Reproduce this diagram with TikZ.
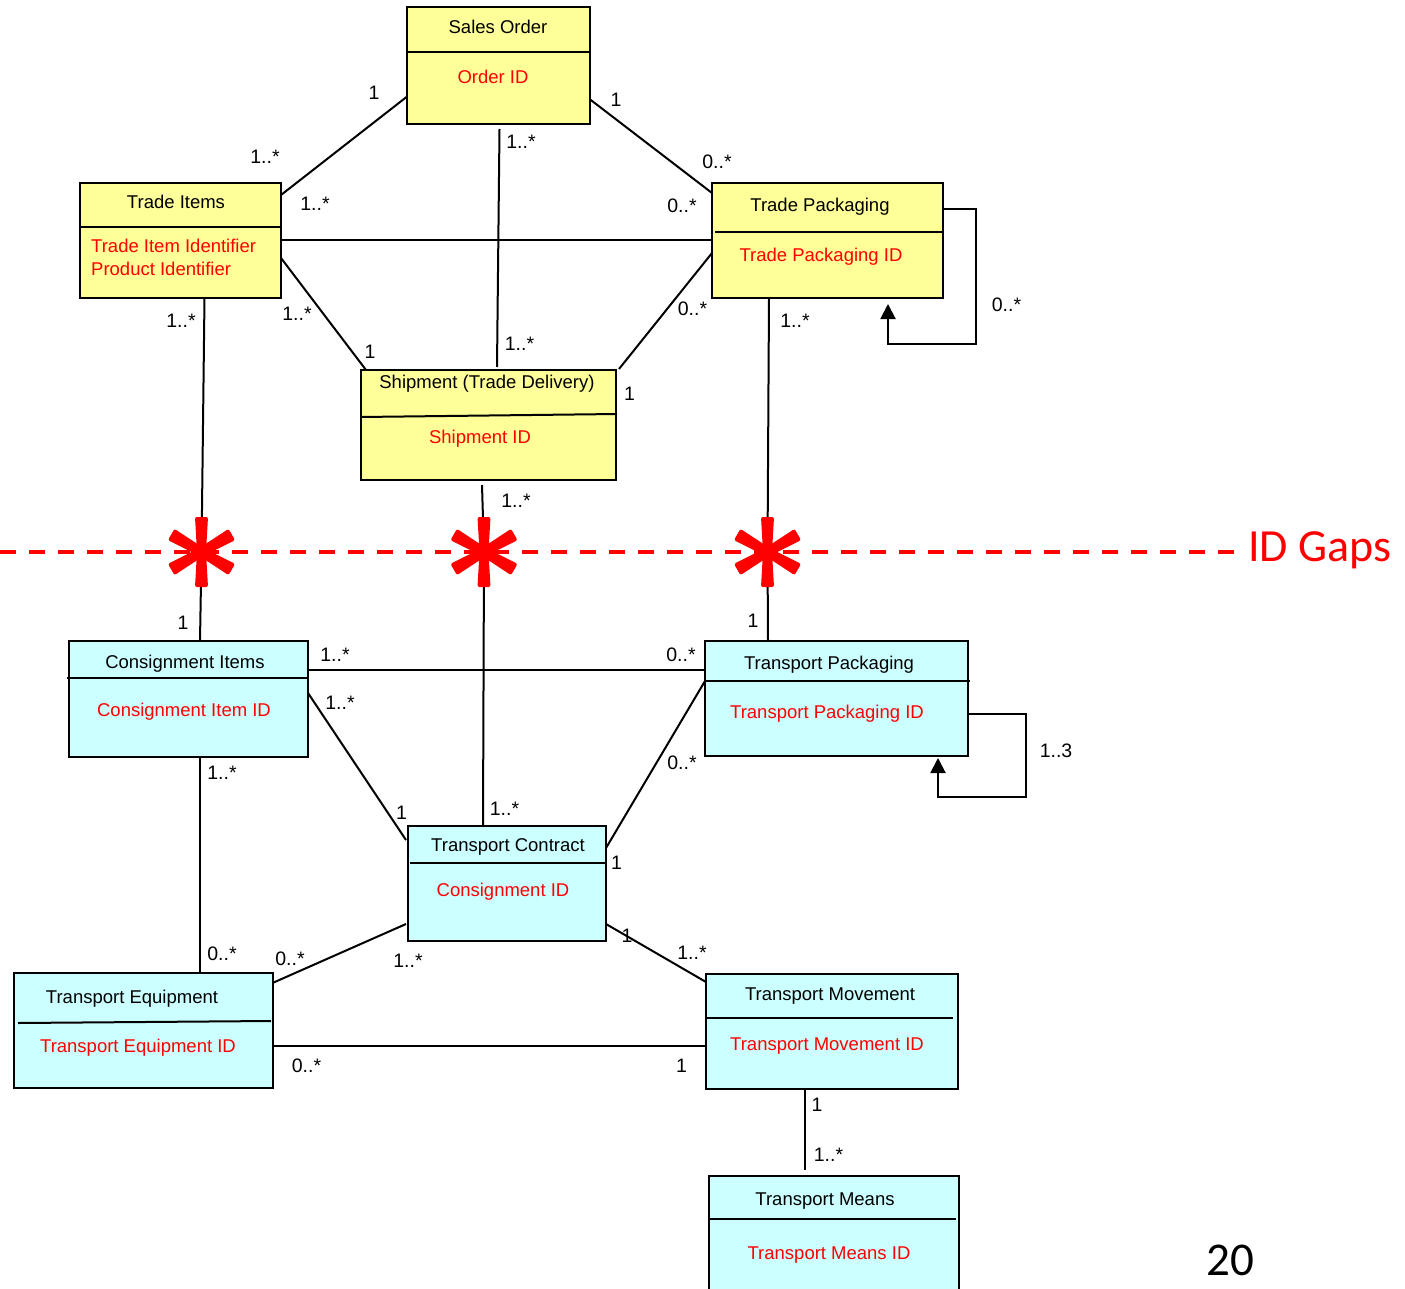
\documentclass[tikz,border=0pt]{standalone}
\usepackage{fontspec}
\setmainfont{Liberation Sans}
\newfontfamily\calibfont{Carlito}
\usetikzlibrary{arrows.meta,calc}
\definecolor{umlyellow}{RGB}{255,255,153}
\definecolor{umlcyan}{RGB}{204,255,255}
\definecolor{idred}{RGB}{255,0,0}
\begin{document}
\begin{tikzpicture}[x=1pt,y=-1pt,
  box/.style={draw=black, line width=2pt, inner sep=0pt, outer sep=0pt, anchor=north west},
  ybox/.style={box, fill=umlyellow},
  cbox/.style={box, fill=umlcyan},
  divider/.style={line width=2pt},
  ttl/.style={font=\fontsize{18.5}{22}\selectfont, inner sep=0pt, text height=13.2pt, text depth=0pt},
  idt/.style={ttl, text=idred},
  lab/.style={font=\fontsize{19.5}{23}\selectfont, inner sep=0pt, text height=14pt, text depth=0pt},
  conn/.style={line width=2pt},
  loopconn/.style={line width=2pt, -{Triangle[width=15pt,length=15pt]}},
  gapline/.style={draw=idred, line width=3.5pt, dash pattern=on 16pt off 13pt},
  gapstar/.pic={
    \foreach \a in {30,90,150,210,270,330}
      \fill[idred, rounded corners=2pt, rotate=\a] (0,-4.5) -- (35,-6.5) -- (35,6.5) -- (0,4.5) -- cycle;
    \fill[idred] (0,0) circle (6);
  }
]
\useasboundingbox (0,0) rectangle (1405,1289);
\fill[white] (0,0) rectangle (1405,1289);
\clip (0,0) rectangle (1405,1289);

% ID gap line
\draw[gapline] (0,552) -- (1234,552);

% ---------- nodes (boxes) ----------
\node[ybox, minimum width=183, minimum height=116.5] (so) at (406.5,7.5) {};
\node[ybox, minimum width=201, minimum height=115] (ti) at (80,183) {};
\node[ybox, minimum width=231, minimum height=115] (tp) at (712,183) {};
\node[ybox, minimum width=255, minimum height=110] (sh) at (361,370) {};
\node[cbox, minimum width=239.5, minimum height=115.5] (ci) at (68.5,641) {};
\node[cbox, minimum width=263, minimum height=115] (tpk) at (705,641) {};
\node[cbox, minimum width=198, minimum height=115] (tc) at (408,826) {};
\node[cbox, minimum width=258.5, minimum height=115] (te) at (14,973) {};
\node[cbox, minimum width=252, minimum height=115] (tm) at (706,974) {};
\node[cbox, minimum width=250, minimum height=140] (tme) at (709,1176) {};

% ---------- connectors ----------
\coordinate (g1) at (201.5,552);
\coordinate (g2) at (484,552);
\coordinate (g3) at (767.5,552);
\coordinate (soB) at (499.5,129);
\coordinate (shT) at (497,367);
\coordinate (shB) at (482,485);
\coordinate (tmeT) at (805,1170);
\coordinate (tpLoop) at (888,304);
\coordinate (tpkLoop) at (938,758);

\draw[conn] (so.west |- 0,97) -- (ti.east |- 0,195);
\draw[conn] (soB) -- (shT);
\draw[conn] (so.east |- 0,99) -- (tp.west |- 0,193);
\draw[conn] (ti.east |- 0,240) -- (tp.west |- 0,240);
\draw[conn] (ti.east |- 0,258) -- ($(sh.north west)+(5,0)$);
\draw[conn] (tp.west |- 0,253) -- ($(sh.north east)+(3,-1)$);

\draw[conn] (ti.south -| 204.5,0) -- (g1) -- (ci.north -| 200,0);
\draw[conn] (shB) -- (g2) -- (tc.north -| 483,0);
\draw[conn] (tp.south -| 769,0) -- (g3) -- (tpk.north -| 768,0);

\draw[conn] (ci.east |- 0,670) -- (tpk.west |- 0,670);
\draw[conn] (ci.east |- 0,693) -- ($(tc.west |- 0,840)+(-2,0)$);
\draw[conn] (tc.east |- 0,848) -- (tpk.west |- 0,681);
\draw[conn] ($(tc.west |- 0,924)+(-2,0)$) -- (te.east |- 0,983);
\draw[conn] (tc.east |- 0,924) -- (tm.west |- 0,982);
\draw[conn] (te.east |- 0,1046) -- (tm.west |- 0,1046);
\draw[conn] (ci.south -| 200,0) -- (te.north -| 200,0);
\draw[conn] (tm.south -| 805,0) -- (tmeT);

\draw[loopconn] (tp.east |- 0,209) -| (976,344) -| (tpLoop);
\draw[loopconn] (tpk.east |- 0,714) -| (1026,797) -| (tpkLoop);

% redraw boxes on top of connector ends
\node[ybox, minimum width=183, minimum height=116.5] at (406.5,7.5) {};
\node[ybox, minimum width=201, minimum height=115] at (80,183) {};
\node[ybox, minimum width=231, minimum height=115] at (712,183) {};
\node[ybox, minimum width=255, minimum height=110] at (361,370) {};
\node[cbox, minimum width=239.5, minimum height=115.5] at (68.5,641) {};
\node[cbox, minimum width=263, minimum height=115] at (705,641) {};
\node[cbox, minimum width=198, minimum height=115] at (408,826) {};
\node[cbox, minimum width=258.5, minimum height=115] at (14,973) {};
\node[cbox, minimum width=252, minimum height=115] at (706,974) {};
\node[cbox, minimum width=250, minimum height=140] at (709,1176) {};

% dividers
\draw[divider] (406.5,52) -- (589.5,52);
\draw[divider] (80,227) -- (281,227);
\draw[divider] (715,232) -- (943,232);
\draw[divider] (361,417) -- (617,414);
\draw[divider] (67,678) -- (308,678);
\draw[divider] (705,681) -- (970,681);
\draw[divider] (410,863) -- (606,863);
\draw[divider] (18,1023) -- (271,1021);
\draw[divider] (706,1018) -- (953,1018);
\draw[divider] (709,1219) -- (956,1219);

% titles and ids
\node[ttl] (so-t) at (498,27) {Sales Order};
\node[idt] (so-i) at (493,77) {Order ID};
\node[ttl] (ti-t) at (176,202) {Trade Items};
\node[idt, anchor=west] (ti-i1) at (91,246) {Trade Item Identifier};
\node[idt, anchor=west] (ti-i2) at (91,269) {Product Identifier};
\node[ttl] (tp-t) at (820,205) {Trade Packaging};
\node[idt] (tp-i) at (821,255) {Trade Packaging ID};
\node[ttl] (sh-t) at (487,382) {Shipment (Trade Delivery)};
\node[idt] (sh-i) at (480,437) {Shipment ID};
\node[ttl] (ci-t) at (185,662) {Consignment Items};
\node[idt] (ci-i) at (184,710) {Consignment Item ID};
\node[ttl] (tpk-t) at (829,663) {Transport Packaging};
\node[idt] (tpk-i) at (827,712) {Transport Packaging ID};
\node[ttl] (tc-t) at (508,845) {Transport Contract};
\node[idt] (tc-i) at (503,890) {Consignment ID};
\node[ttl] (te-t) at (132,997) {Transport Equipment};
\node[idt] (te-i) at (138,1046) {Transport Equipment ID};
\node[ttl] (tm-t) at (830,994) {Transport Movement};
\node[idt] (tm-i) at (827,1044) {Transport Movement ID};
\node[ttl] (tme-t) at (825,1199) {Transport Means};
\node[idt] (tme-i) at (829,1253) {Transport Means ID};

% multiplicities
\node[lab] (l1) at (374,93) {1};
\node[lab] (l2) at (265,157) {1..*};
\node[lab] (l3) at (521,142) {1..*};
\node[lab] (l4) at (616,100) {1};
\node[lab] (l5) at (717,162) {0..*};
\node[lab] (l6) at (315,204) {1..*};
\node[lab] (l7) at (682,206) {0..*};
\node[lab] (l8) at (181,320) {1..*};
\node[lab] (l9) at (297,313) {1..*};
\node[lab] (l10) at (370,351) {1};
\node[lab] (l11) at (519.5,343) {1..*};
\node[lab] (l12) at (692.5,308) {0..*};
\node[lab] (l13) at (629.5,393) {1};
\node[lab] (l14) at (795,320) {1..*};
\node[lab] (l15) at (1006.5,304) {0..*};
\node[lab] (l16) at (516,500) {1..*};
\node[lab] (l17) at (183,622) {1};
\node[lab] (l18) at (753,620) {1};
\node[lab] (l19) at (335,654) {1..*};
\node[lab] (l20) at (681,654) {0..*};
\node[lab] (l21) at (340,702) {1..*};
\node[lab] (l22) at (1056,750) {1..3};
\node[lab] (l23) at (682,762) {0..*};
\node[lab] (l24) at (222,772) {1..*};
\node[lab] (l25) at (401.5,812) {1};
\node[lab] (l26) at (504.5,808) {1..*};
\node[lab] (l27) at (616.5,862) {1};
\node[lab] (l28) at (627,935) {1};
\node[lab] (l29) at (692,952) {1..*};
\node[lab] (l30) at (222,953) {0..*};
\node[lab] (l31) at (290,958) {0..*};
\node[lab] (l32) at (408,960) {1..*};
\node[lab] (l33) at (306.5,1065) {0..*};
\node[lab] (l34) at (681.5,1065) {1};
\node[lab] (l35) at (817,1104) {1};
\node[lab] (l36) at (828.5,1154) {1..*};

% ID gap stars
\pic (s1) at (g1) {gapstar};
\pic (s2) at (g2) {gapstar};
\pic (s3) at (g3) {gapstar};

\node[anchor=base west, inner sep=0pt, text=idred, font=\calibfont\fontsize{46}{50}\selectfont] (idg) at (1248,561) {ID Gaps};
\node[anchor=base west, inner sep=0pt, font=\calibfont\fontsize{47}{52}\selectfont] (pg) at (1206,1275) {20};
\end{tikzpicture}
\end{document}
